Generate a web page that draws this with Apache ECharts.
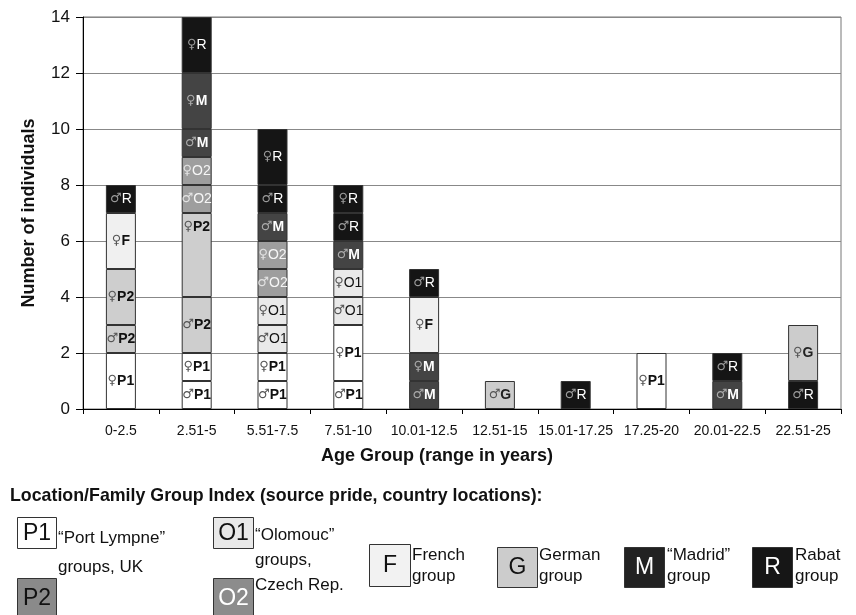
<!DOCTYPE html>
<html>
<head>
<meta charset="utf-8">
<script src="https://cdn.jsdelivr.net/npm/echarts@6/dist/echarts.min.js"></script>
<style>
html,body{margin:0;padding:0;background:#fff;}
#chart{width:856px;height:615px;}
</style>
</head>
<body>
<div id="chart"></div>
<script>
// ---- data (number of individuals per age group, stacked bottom -> top) ----
const categories = ['0-2.5','2.51-5','5.51-7.5','7.51-10','10.01-12.5','12.51-15','15.01-17.25','17.25-20','20.01-22.5','22.51-25'];
const maleP1   = [null,1,1,1,null,null,null,null,null,null];
const femaleP1 = [2,1,1,2,null,null,null,2,null,null];
const maleP2   = [1,2,null,null,null,null,null,null,null,null];
const femaleP2 = [2,3,null,null,null,null,null,null,null,null];
const maleO1   = [null,null,1,1,null,null,null,null,null,null];
const femaleO1 = [null,null,1,1,null,null,null,null,null,null];
const maleO2   = [null,1,1,null,null,null,null,null,null,null];
const femaleO2 = [null,1,1,null,null,null,null,null,null,null];
const maleM    = [null,1,1,1,1,null,null,null,1,null];
const femaleM  = [null,2,null,null,1,null,null,null,null,null];
const femaleF  = [2,null,null,null,2,null,null,null,null,null];
const maleG    = [null,null,null,null,null,1,null,null,null,null];
const maleR    = [1,null,1,1,1,null,1,null,1,1];
const femaleR  = [null,2,2,1,null,null,null,null,null,null];
const femaleG  = [null,null,null,null,null,null,null,null,null,2];
const yTicks = [0,2,4,6,8,10,12,14];

const seriesDefs = [
  ['♂P1', maleP1], ['♀P1', femaleP1], ['♂P2', maleP2], ['♀P2', femaleP2],
  ['♂O1', maleO1], ['♀O1', femaleO1], ['♂O2', maleO2], ['♀O2', femaleO2],
  ['♂M', maleM], ['♀M', femaleM], ['♀F', femaleF], ['♂G', maleG],
  ['♂R', maleR], ['♀R', femaleR], ['♀G', femaleG]
];

// ---- styles ----
const FONT = '"Liberation Sans", Arial, Helvetica, sans-serif';
const look = {
  P1:{fill:'#ffffff', ink:'#111111', sym:'#555555', w:'bold'},
  P2:{fill:'#cecece', ink:'#111111', sym:'#555555', w:'bold'},
  O1:{fill:'#e9e9e9', ink:'#111111', sym:'#555555', w:'normal'},
  O2:{fill:'#9e9e9e', ink:'#f6f6f6', sym:'#e2e2e2', w:'normal'},
  F: {fill:'#f0f0f0', ink:'#111111', sym:'#555555', w:'bold'},
  G: {fill:'#cccccc', ink:'#222222', sym:'#555555', w:'bold'},
  M: {fill:'#444444', ink:'#ffffff', sym:'#aaaaaa', w:'bold'},
  R: {fill:'#151515', ink:'#ffffff', sym:'#9a9a9a', w:'normal'}
};

const series = seriesDefs.map(([name, values]) => {
  const code = name.slice(1);
  const sym = name.slice(0,1);
  const lk = look[code];
  return {
    name: name,
    type: 'bar',
    stack: 'total',
    barWidth: 30,
    itemStyle: {color: lk.fill, borderColor: '#333', borderWidth: 1},
    label: {
      show: true,
      position: 'inside',
      formatter: '{s|' + sym + '}{t|' + code + '}',
      rich: {
        s: {fontFamily: '"DejaVu Sans", sans-serif', fontSize: 13, color: lk.sym},
        t: {fontFamily: FONT, fontSize: 14, fontWeight: lk.w, color: lk.ink}
      }
    },
    data: values.map(v => v == null ? '-' : (v >= 3 ? {value: v, label: {position: 'insideTop', distance: 7}} : v))
  };
});

// ---- legend key drawn as graphics ----
const key = [
  {code:'P1', box:[17,517,39,31], fill:'#ffffff', ink:'#111'},
  {code:'P2', box:[17,578,39,40], fill:'#8a8a8a', ink:'#111'},
  {code:'O1', box:[213,517,40,31], fill:'#e8e8e8', ink:'#111'},
  {code:'O2', box:[213,578,40,40], fill:'#8c8c8c', ink:'#ffffff'},
  {code:'F',  box:[369,544,41,42], fill:'#f2f2f2', ink:'#111'},
  {code:'G',  box:[497,547,40,40], fill:'#cccccc', ink:'#111'},
  {code:'M',  box:[624,547,40,40], fill:'#222222', ink:'#ffffff'},
  {code:'R',  box:[752,547,40,40], fill:'#161616', ink:'#ffffff'}
];
const keyTexts = [
  {x:58,  y:524, lh:29, text:'“Port Lympne”\ngroups, UK'},
  {x:255, y:523, lh:25, text:'“Olomouc”\ngroups,\nCzech Rep.'},
  {x:412, y:545, lh:21, text:'French\ngroup'},
  {x:539, y:545, lh:21, text:'German\ngroup'},
  {x:667, y:545, lh:21, text:'“Madrid”\ngroup'},
  {x:795, y:545, lh:21, text:'Rabat\ngroup'}
];
const graphic = [
  {type:'text', x:10, y:487, style:{text:'Location/Family Group Index (source pride, country locations):',
    font:'bold 17.8px ' + FONT, fill:'#111', verticalAlign:'top'}}
];
key.forEach(k => {
  const [x,y,w,h] = k.box;
  graphic.push({type:'rect', shape:{x:x+0.5,y:y+0.5,width:w,height:h}, style:{fill:k.fill, stroke:'#333', lineWidth:1}});
  graphic.push({type:'text', x:x+w/2+0.5, y:y+h/2+1, style:{text:k.code, font:'23px ' + FONT, fill:k.ink, align:'center', verticalAlign:'middle'}});
});
keyTexts.forEach(t => {
  graphic.push({type:'text', x:t.x, y:t.y, style:{text:t.text, font:'17px ' + FONT, fill:'#111', verticalAlign:'top', lineHeight:t.lh}});
});

const chart = echarts.init(document.getElementById('chart'), null, {renderer:'canvas'});
chart.setOption({
  animation: false,
  backgroundColor: '#ffffff',
  grid: {left:83, right:15, top:17, bottom:206, show:true, borderColor:'#777', borderWidth:1, backgroundColor:'transparent'},
  xAxis: {
    type: 'category',
    data: categories,
    name: 'Age Group (range in years)',
    nameLocation: 'middle',
    nameGap: 38,
    nameTextStyle: {fontFamily: FONT, fontSize: 18, fontWeight: 'bold', color: '#111', padding: [0,50,0,0]},
    axisLine: {lineStyle: {color: '#000', width: 1}},
    axisTick: {show: true, length: 5, lineStyle: {color: '#000'}},
    axisLabel: {interval: 0, margin: 15, fontFamily: FONT, fontSize: 14, color: '#111'}
  },
  yAxis: {
    type: 'value',
    min: yTicks[0], max: yTicks[yTicks.length-1], interval: 2,
    name: 'Number of individuals',
    nameLocation: 'middle',
    nameGap: 45,
    nameTextStyle: {fontFamily: FONT, fontSize: 18, fontWeight: 'bold', color: '#111'},
    axisLine: {show: true, lineStyle: {color: '#000', width: 1}},
    axisTick: {show: true, length: 7, lineStyle: {color: '#000'}},
    axisLabel: {margin: 13, fontFamily: FONT, fontSize: 17, color: '#111'},
    splitLine: {show: true, lineStyle: {color: '#888', width: 1}}
  },
  series: series,
  graphic: graphic
});
</script>
</body>
</html>
